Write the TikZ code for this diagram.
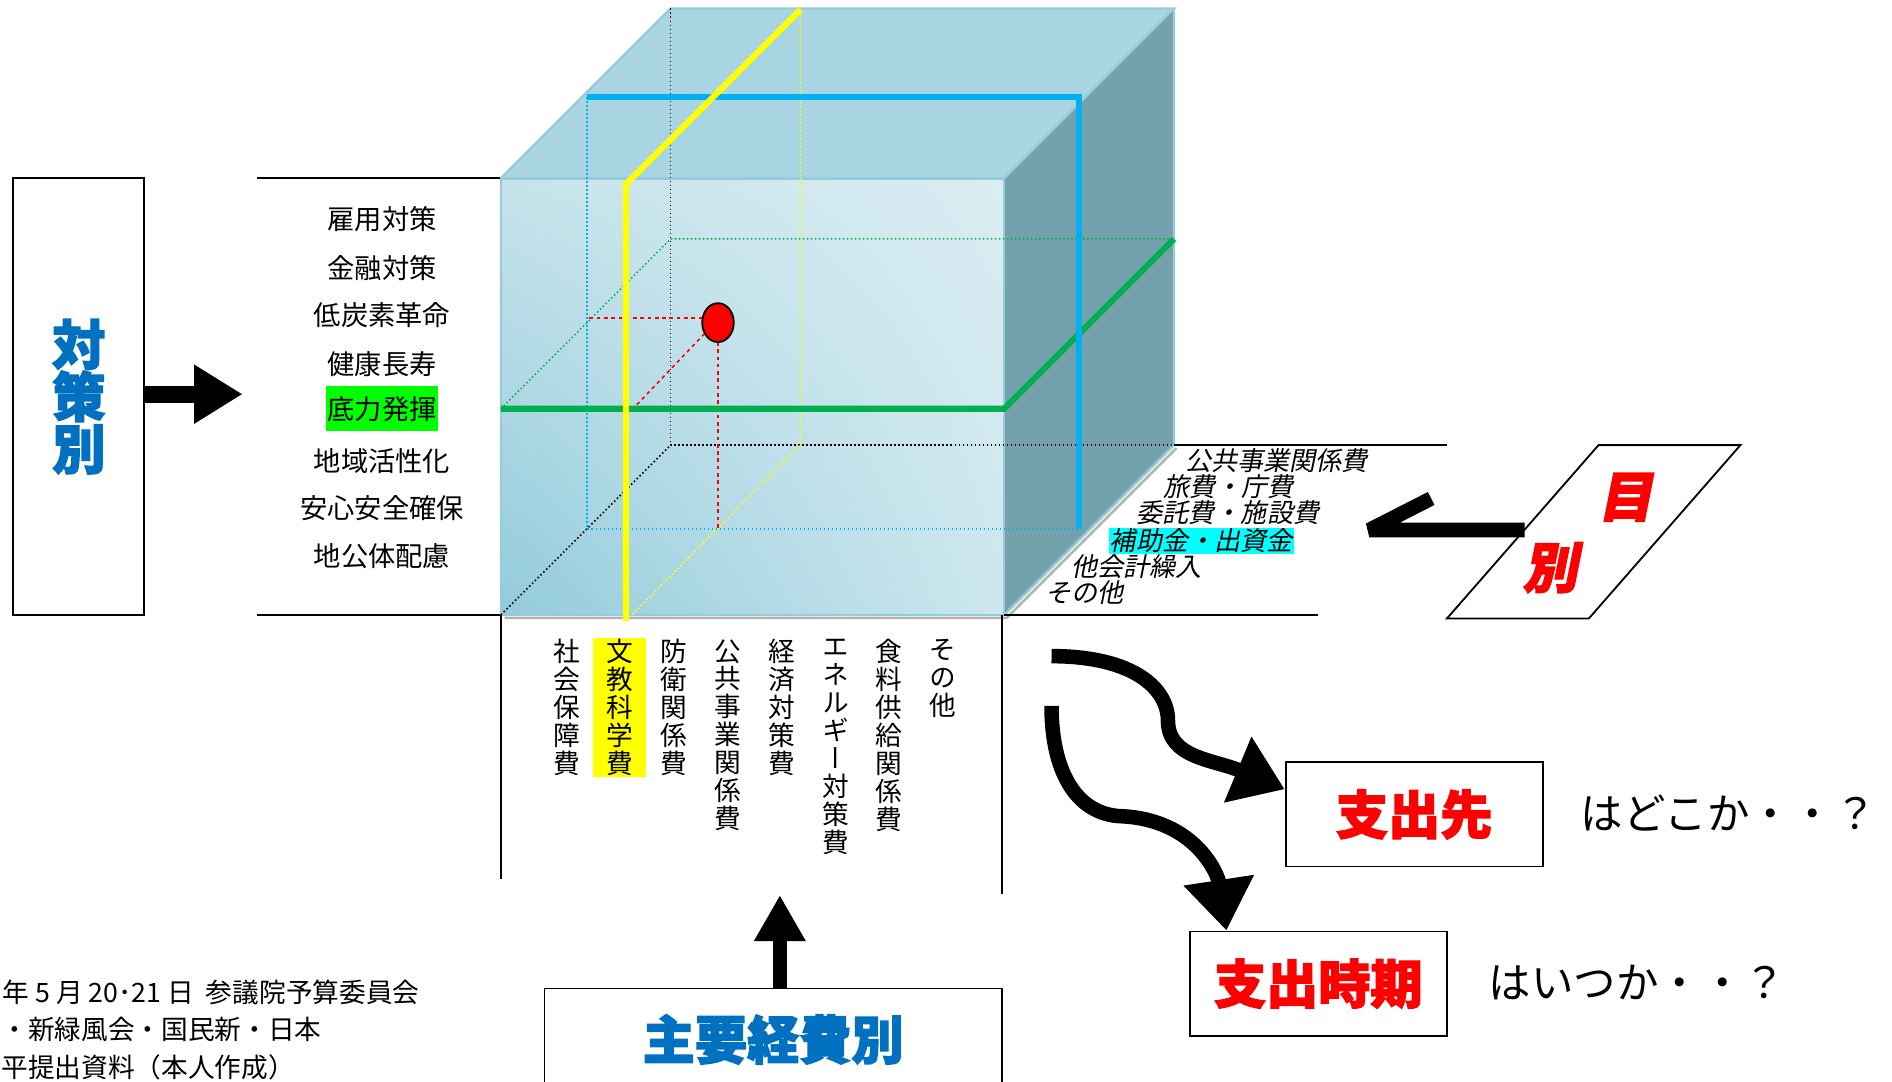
\documentclass[tikz,border=0pt]{standalone}
\usepackage{fontspec}
\setmainfont{Noto Sans CJK JP}[BoldFeatures={FakeBold=2.5}]
\newfontfamily\vjp[RawFeature=+vert]{Noto Sans CJK JP}
\newfontfamily\sjp[FakeSlant=0.2,BoldFeatures={FakeBold=2.5}]{Noto Sans CJK JP}
\usetikzlibrary{arrows.meta,shadings,shapes.geometric}

\definecolor{titleblue}{RGB}{0,112,192}
\definecolor{lineblue}{RGB}{0,176,240}
\definecolor{linegreen}{RGB}{0,176,80}
\definecolor{lineyellow}{RGB}{255,255,0}
\definecolor{hlgreen}{RGB}{0,255,0}
\definecolor{hlcyan}{RGB}{0,255,255}
\definecolor{hlyellow}{RGB}{255,255,0}
\definecolor{cubetop}{RGB}{168,213,225}
\definecolor{cubeside}{RGB}{117,161,172}
\definecolor{cubeedge}{RGB}{150,204,218}
\definecolor{cubeul}{RGB}{198,227,235}
\definecolor{cubeur}{RGB}{218,237,242}
\definecolor{cubell}{RGB}{146,203,220}
\definecolor{cubelr}{RGB}{205,231,238}

\begin{document}
\begin{tikzpicture}[x=1pt,y=-1pt,
    item/.style={inner sep=1pt,font=\fontsize{22.5}{24}\selectfont},
    sitem/.style={anchor=west,inner sep=1pt,font=\sjp\fontsize{21.5}{23}\selectfont},
    vitem/.style={anchor=north,align=center,inner xsep=11pt,inner ysep=1pt,font=\vjp\fontsize{22}{23}\selectfont},
    note/.style={anchor=west,inner sep=0pt,font=\fontsize{22}{24}\selectfont},
    qbox/.style={draw,line width=1.5pt,minimum width=212pt,minimum height=86pt},
    big/.style={font=\bfseries\fontsize{43}{43}\selectfont},
    fat/.style={line width=12pt,-{Triangle[length=42pt,width=56pt]}},
    hidden/.style={dotted,line width=1.3pt},
    plane/.style={line width=5pt}]
\useasboundingbox (0,0) rectangle (1560,892);

\node[draw,line width=1.5pt,minimum width=108pt,minimum height=360pt,align=center,
    text=titleblue,font=\bfseries\fontsize{44}{43}\selectfont] (t) at (65,327) {対\\策\\別};
\coordinate (ttip) at (200,325);
\draw[line width=14pt,-{Triangle[length=40pt,width=46pt]}] (t.east |- ttip) -- (ttip);

\draw[line width=1.5pt] (212,147) -- (413,147);
\draw[line width=1.5pt] (212,507) -- (413,507);
\node[item] (l1) at (315,181) {雇用対策};
\node[item] (l2) at (315,221) {金融対策};
\node[item] (l3) at (315,260) {低炭素革命};
\node[item] (l4) at (315,300) {健康長寿};
\node[item,fill=hlgreen,inner xsep=1pt,inner ysep=8pt] (l5) at (315,337) {底力発揮};
\node[item] (l6) at (315,380) {地域活性化};
\node[item] (l7) at (315,419) {安心安全確保};
\node[item] (l8) at (315,459) {地公体配慮};

\fill[cubetop] (413,147) -- (553,7) -- (968,7) -- (828,147) -- cycle;
\fill[cubeside] (828,147) -- (968,7) -- (968,367) -- (828,507) -- cycle;
\shade[upper left=cubeul,upper right=cubeur,lower left=cubell,lower right=cubelr] (413,147) rectangle (828,507);
\draw[gray!60,line width=2pt] (416,509.5) -- (830,509.5) -- (970,369.5);
\draw[cubeedge,line width=2pt] (413,147) rectangle (828,507);
\draw[cubeedge,line width=2pt] (413,147) -- (553,7) -- (968,7) -- (828,147);
\draw[cubeedge,line width=2pt] (968,7) -- (968,367) -- (828,507);

\draw[hidden] (553,7) -- (553,367) -- (968,367);
\draw[hidden] (413,507) -- (553,367);
\draw[hidden,lineyellow] (660,8) -- (660,367) -- (521,507);
\draw[hidden,lineblue] (484,80) -- (484,436) -- (890,436);
\draw[hidden,linegreen] (413,337) -- (553,197) -- (968,197);

\draw[red,dashed,line width=1.3pt] (579,262) -- (484,262);
\draw[red,dashed,line width=1.3pt] (592,282) -- (592,436);
\draw[red,dashed,line width=1.3pt] (581,275) -- (521,338);
\node[draw,fill=red,line width=1.5pt,ellipse,minimum width=26pt,minimum height=32pt,inner sep=0pt] (p) at (592,266) {};

\draw[plane,linegreen] (413,337) -- (828,337) -- (968,197);
\draw[plane,lineblue] (484,80) -- (890,80) -- (890,436);
\draw[plane,lineyellow] (516,512) -- (516,152) -- (660,8);

\draw[line width=1.5pt] (968,367) -- (1193,367);
\draw[line width=1.5pt] (828,507) -- (1087,507);
\node[sitem] (r1) at (976,380) {公共事業関係費};
\node[sitem] (r2) at (958,401) {旅費・庁費};
\node[sitem] (r3) at (936,423) {委託費・施設費};
\node[sitem,fill=hlcyan] (r4) at (914,446) {補助金・出資金};
\node[sitem] (r5) at (882,467) {他会計繰入};
\node[sitem] (r6) at (861,489) {その他};

\draw[line width=1.5pt] (1193,510) -- (1318,367) -- (1435,367) -- (1310,510) -- cycle;
\node[text=red,font=\sjp\bfseries\fontsize{45}{45}\selectfont] (m1) at (1340,410) {目};
\node[text=red,font=\sjp\bfseries\fontsize{45}{45}\selectfont] (m2) at (1278,468) {別};
\coordinate (hs) at (1257,437);
\coordinate (ht) at (1129,437);
\draw[line width=12pt,line join=bevel] (1180,411) -- (ht) -- (hs);

\draw[line width=1.5pt] (413,507) -- (413,725);
\draw[line width=1.5pt] (826,507) -- (826,737);
\node[vitem] (v1) at (467,526) {社\\会\\保\\障\\費};
\node[vitem,fill=hlyellow] (v2) at (511,526) {文\\教\\科\\学\\費};
\node[vitem] (v3) at (556,526) {防\\衛\\関\\係\\費};
\node[vitem] (v4) at (600,526) {公\\共\\事\\業\\関\\係\\費};
\node[vitem] (v5) at (645,526) {経\\済\\対\\策\\費};
\node[vitem] (v6) at (689,526) {エ\\ネ\\ル\\ギ\\ー\\対\\策\\費};
\node[vitem] (v7) at (733,526) {食\\料\\供\\給\\関\\係\\費};
\node[vitem] (v8) at (777,526) {そ\\の\\他};

\node[draw,line width=1.5pt,minimum width=377pt,minimum height=84pt,text=titleblue,big] (k) at (637.5,857) {主要経費別};
\coordinate (ktip) at (643,738);
\draw[line width=12pt,-{Triangle[length=38pt,width=40pt]}] (k.north -| ktip) -- (ktip);

\node[qbox,text=red,big] (saki) at (1166,671.5) {支出先};
\node[qbox,text=red,big] (jiki) at (1087,811) {支出時期};
\node[anchor=west,font=\fontsize{35}{35}\selectfont] (q1) at (1300,670) {はどこか・・？};
\node[anchor=west,font=\fontsize{35}{35}\selectfont] (q2) at (1224,810) {はいつか・・？};

\coordinate (s1) at (867,541);
\coordinate (s2) at (867,582);
\draw[fat] (s1) .. controls (935,541) and (963,568) .. (963,594)
    .. controls (963,625) and (1000,626) .. (saki.169);
\draw[fat] (s2) .. controls (867,640) and (890,672) .. (925,673)
    .. controls (985,676) and (1004,720) .. (jiki.150);

\node[note] (n1) at (2,818) {年 5 月 20･21 日\ \ 参議院予算委員会};
\node[note] (n2) at (1,849) {・新緑風会・国民新・日本};
\node[note] (n3) at (1,880) {平提出資料（本人作成）};
\end{tikzpicture}
\end{document}
